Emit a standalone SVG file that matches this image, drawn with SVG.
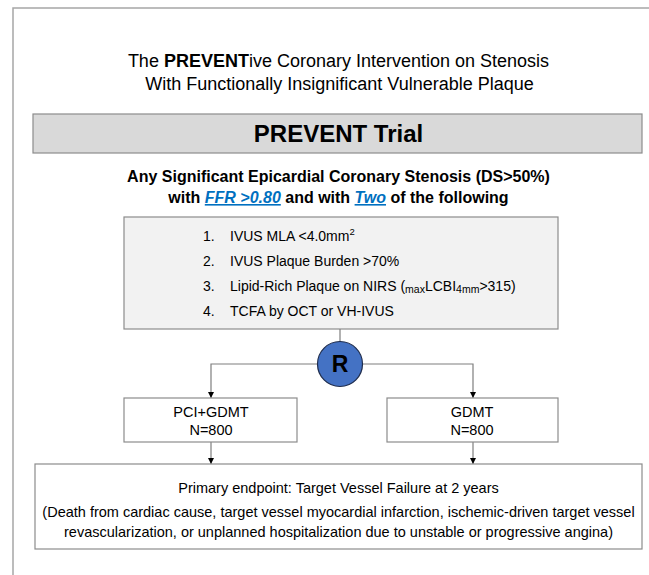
<svg xmlns="http://www.w3.org/2000/svg" width="649" height="575" viewBox="0 0 649 575">
  <defs>
    <marker id="arrow" viewBox="0 0 10 10" refX="10" refY="5" markerWidth="6" markerHeight="6" orient="auto" markerUnits="userSpaceOnUse">
      <path d="M0,0 L10,5 L0,10 z" fill="#000"/>
    </marker>
    <style>
      text { font-family: "Liberation Sans", Arial, sans-serif; fill: #000; }
      .title { font-size: 18px; text-anchor: middle; }
      .bar { font-size: 24px; font-weight: bold; text-anchor: middle; }
      .sub { font-size: 16px; font-weight: bold; text-anchor: middle; }
      .link { fill: #0070c0; font-style: italic; text-decoration: underline; }
      .item { font-size: 14px; }
      .arm { font-size: 14.5px; text-anchor: middle; }
      .end { font-size: 14.5px; text-anchor: middle; }
      .box { fill: #fff; stroke: #8c8c8c; stroke-width: 1.2; }
      .conn { fill: none; stroke: #7f7f7f; stroke-width: 1.2; }
    </style>
  </defs>

  <rect width="649" height="575" fill="#fff"/>

  <!-- page frame -->
  <path d="M13,575 V8 H649" fill="none" stroke="#a6a6a6" stroke-width="1.5"/>

  <!-- heading -->
  <g id="heading">
    <text class="title" x="338.5" y="67">The <tspan font-weight="bold">PREVENT</tspan>ive Coronary Intervention on Stenosis</text>
    <text class="title" x="339.5" y="90">With Functionally Insignificant Vulnerable Plaque</text>
  </g>

  <!-- trial banner -->
  <g id="trial">
    <rect x="33" y="114" width="609" height="39" fill="#d9d9d9" stroke="#8c8c8c" stroke-width="1.2"/>
    <text class="bar" x="338.5" y="142">PREVENT Trial</text>
  </g>

  <!-- inclusion statement -->
  <g id="inclusion">
    <text class="sub" x="338.5" y="182">Any Significant Epicardial Coronary Stenosis (DS&gt;50%)</text>
    <text class="sub" x="338.5" y="203">with <tspan class="link">FFR &gt;0.80</tspan> and with <tspan class="link">Two</tspan> of the following</text>
  </g>

  <!-- criteria list -->
  <g id="criteria">
    <rect x="124" y="217" width="434" height="112" fill="#f2f2f2" stroke="#8c8c8c" stroke-width="1.2"/>
    <text class="item" x="203" y="241">1.</text>
    <text class="item" x="230" y="241">IVUS MLA &lt;4.0mm<tspan font-size="9.5" dy="-6">2</tspan></text>
    <text class="item" x="203" y="266">2.</text>
    <text class="item" x="230" y="266">IVUS Plaque Burden &gt;70%</text>
    <text class="item" x="203" y="291">3.</text>
    <text class="item" x="230" y="291">Lipid-Rich Plaque on NIRS (<tspan font-size="10.5" dy="2">max</tspan><tspan dy="-2">LCBI</tspan><tspan font-size="10.5" dy="2">4mm</tspan><tspan dy="-2">&gt;315)</tspan></text>
    <text class="item" x="203" y="316">4.</text>
    <text class="item" x="230" y="316">TCFA by OCT or VH-IVUS</text>
  </g>

  <!-- connectors -->
  <g id="connectors">
    <path class="conn" d="M340,329 V342"/>
    <path class="conn" d="M318,364 H211 V398" marker-end="url(#arrow)"/>
    <path class="conn" d="M362,364 H473 V398" marker-end="url(#arrow)"/>
    <path class="conn" d="M211,442 V464" marker-end="url(#arrow)"/>
    <path class="conn" d="M473,442 V464" marker-end="url(#arrow)"/>
  </g>

  <!-- randomisation -->
  <g id="randomize">
    <circle cx="340" cy="364" r="22.5" fill="#4472c4" stroke="#1f2d4d" stroke-width="1.2"/>
    <text x="340" y="372" font-size="23" font-weight="bold" text-anchor="middle">R</text>
  </g>

  <!-- treatment arms -->
  <g id="arm-pci">
    <rect class="box" x="124" y="398" width="173" height="44"/>
    <text class="arm" x="211" y="417">PCI+GDMT</text>
    <text class="arm" x="211" y="435">N=800</text>
  </g>
  <g id="arm-gdmt">
    <rect class="box" x="387" y="398" width="171" height="44"/>
    <text class="arm" x="472" y="417">GDMT</text>
    <text class="arm" x="472" y="435">N=800</text>
  </g>

  <!-- endpoint -->
  <g id="endpoint">
    <rect class="box" x="35" y="464" width="607" height="85"/>
    <text class="end" x="338.5" y="493">Primary endpoint: Target Vessel Failure at 2 years</text>
    <text class="end" x="338.5" y="517">(Death from cardiac cause, target vessel myocardial infarction, ischemic-driven target vessel</text>
    <text class="end" x="338.5" y="537">revascularization, or unplanned hospitalization due to unstable or progressive angina)</text>
  </g>
</svg>
